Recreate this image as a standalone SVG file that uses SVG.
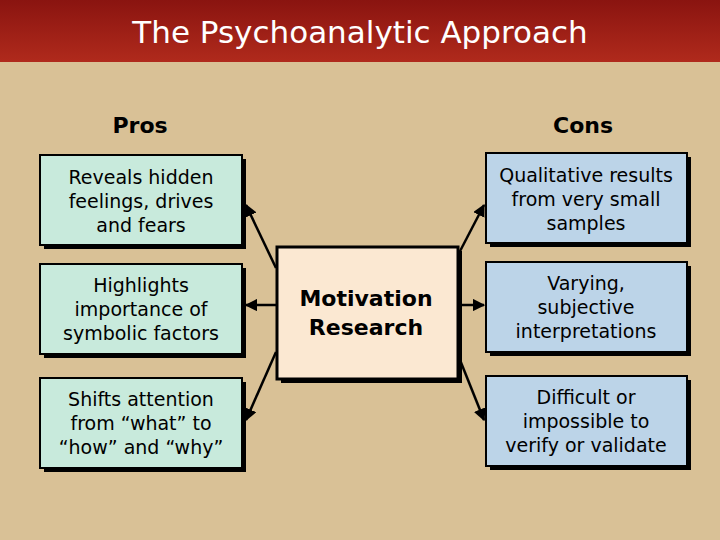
<svg xmlns="http://www.w3.org/2000/svg" width="720" height="540" viewBox="0 0 720 540">
<defs>
<linearGradient id="hd" x1="0" y1="0" x2="0" y2="1"><stop offset="0" stop-color="#8a1410"/><stop offset="1" stop-color="#b02a1c"/></linearGradient>
<marker id="ar" viewBox="0 0 10 10" refX="9" refY="5" markerWidth="5" markerHeight="5" orient="auto"><path d="M0,0 L10,5 L0,10 z" fill="#000"/></marker>
</defs>
<style>
.sh{fill:#000}
.pro{fill:#c8eadc;stroke:#000;stroke-width:2}
.con{fill:#bcd4e8;stroke:#000;stroke-width:2}
.ctr{fill:#fbe8d2;stroke:#000;stroke-width:3}
.t{font-family:Verdana,"DejaVu Sans",sans-serif;font-size:19px;fill:#000;text-anchor:middle}
.h{font-family:Verdana,"DejaVu Sans",sans-serif;font-size:22px;font-weight:bold;fill:#000;text-anchor:middle}
.c{stroke:#000;stroke-width:2.5;fill:none;marker-end:url(#ar)}
</style>
<rect width="720" height="540" fill="#d9c196"/>
<rect width="720" height="62" fill="url(#hd)"/>
<text x="360" y="43" font-family="'DejaVu Sans',sans-serif" font-size="31" fill="#fff" text-anchor="middle">The Psychoanalytic Approach</text>
<text x="140" y="133" class="h">Pros</text>
<text x="583" y="133" class="h">Cons</text>
<g id="connectors">
<line class="c" x1="276" y1="268" x2="246" y2="205"/>
<line class="c" x1="276" y1="305" x2="246" y2="305"/>
<line class="c" x1="276" y1="352" x2="246" y2="420"/>
<line class="c" x1="458" y1="255" x2="484" y2="205"/>
<line class="c" x1="458" y1="305" x2="484" y2="305"/>
<line class="c" x1="458" y1="355" x2="484" y2="420"/>
</g>
<g id="p1"><rect class="sh" x="44" y="159" width="202" height="90"/><rect class="pro" x="40" y="155" width="202" height="90"/>
<text class="t" x="141" y="184">Reveals hidden</text><text class="t" x="141" y="208">feelings, drives</text><text class="t" x="141" y="232">and fears</text></g>
<g id="p2"><rect class="sh" x="44" y="268" width="202" height="90"/><rect class="pro" x="40" y="264" width="202" height="90"/>
<text class="t" x="141" y="292">Highlights</text><text class="t" x="141" y="316">importance of</text><text class="t" x="141" y="340">symbolic factors</text></g>
<g id="p3"><rect class="sh" x="44" y="382" width="202" height="90"/><rect class="pro" x="40" y="378" width="202" height="90"/>
<text class="t" x="141" y="406">Shifts attention</text><text class="t" x="141" y="430">from “what” to</text><text class="t" x="141" y="454">“how” and “why”</text></g>
<g id="c1"><rect class="sh" x="490" y="157" width="201" height="90"/><rect class="con" x="486" y="153" width="201" height="90"/>
<text class="t" x="586" y="182">Qualitative results</text><text class="t" x="586" y="206">from very small</text><text class="t" x="586" y="230">samples</text></g>
<g id="c2"><rect class="sh" x="490" y="266" width="201" height="90"/><rect class="con" x="486" y="262" width="201" height="90"/>
<text class="t" x="586" y="290">Varying,</text><text class="t" x="586" y="314">subjective</text><text class="t" x="586" y="338">interpretations</text></g>
<g id="c3"><rect class="sh" x="490" y="380" width="201" height="90"/><rect class="con" x="486" y="376" width="201" height="90"/>
<text class="t" x="586" y="404">Difficult or</text><text class="t" x="586" y="428">impossible to</text><text class="t" x="586" y="452">verify or validate</text></g>
<g id="center"><rect class="sh" x="281" y="251" width="181" height="132"/><rect class="ctr" x="277" y="247" width="181" height="132"/>
<text class="h" x="366" y="306">Motivation</text><text class="h" x="366" y="335">Research</text></g>
</svg>
